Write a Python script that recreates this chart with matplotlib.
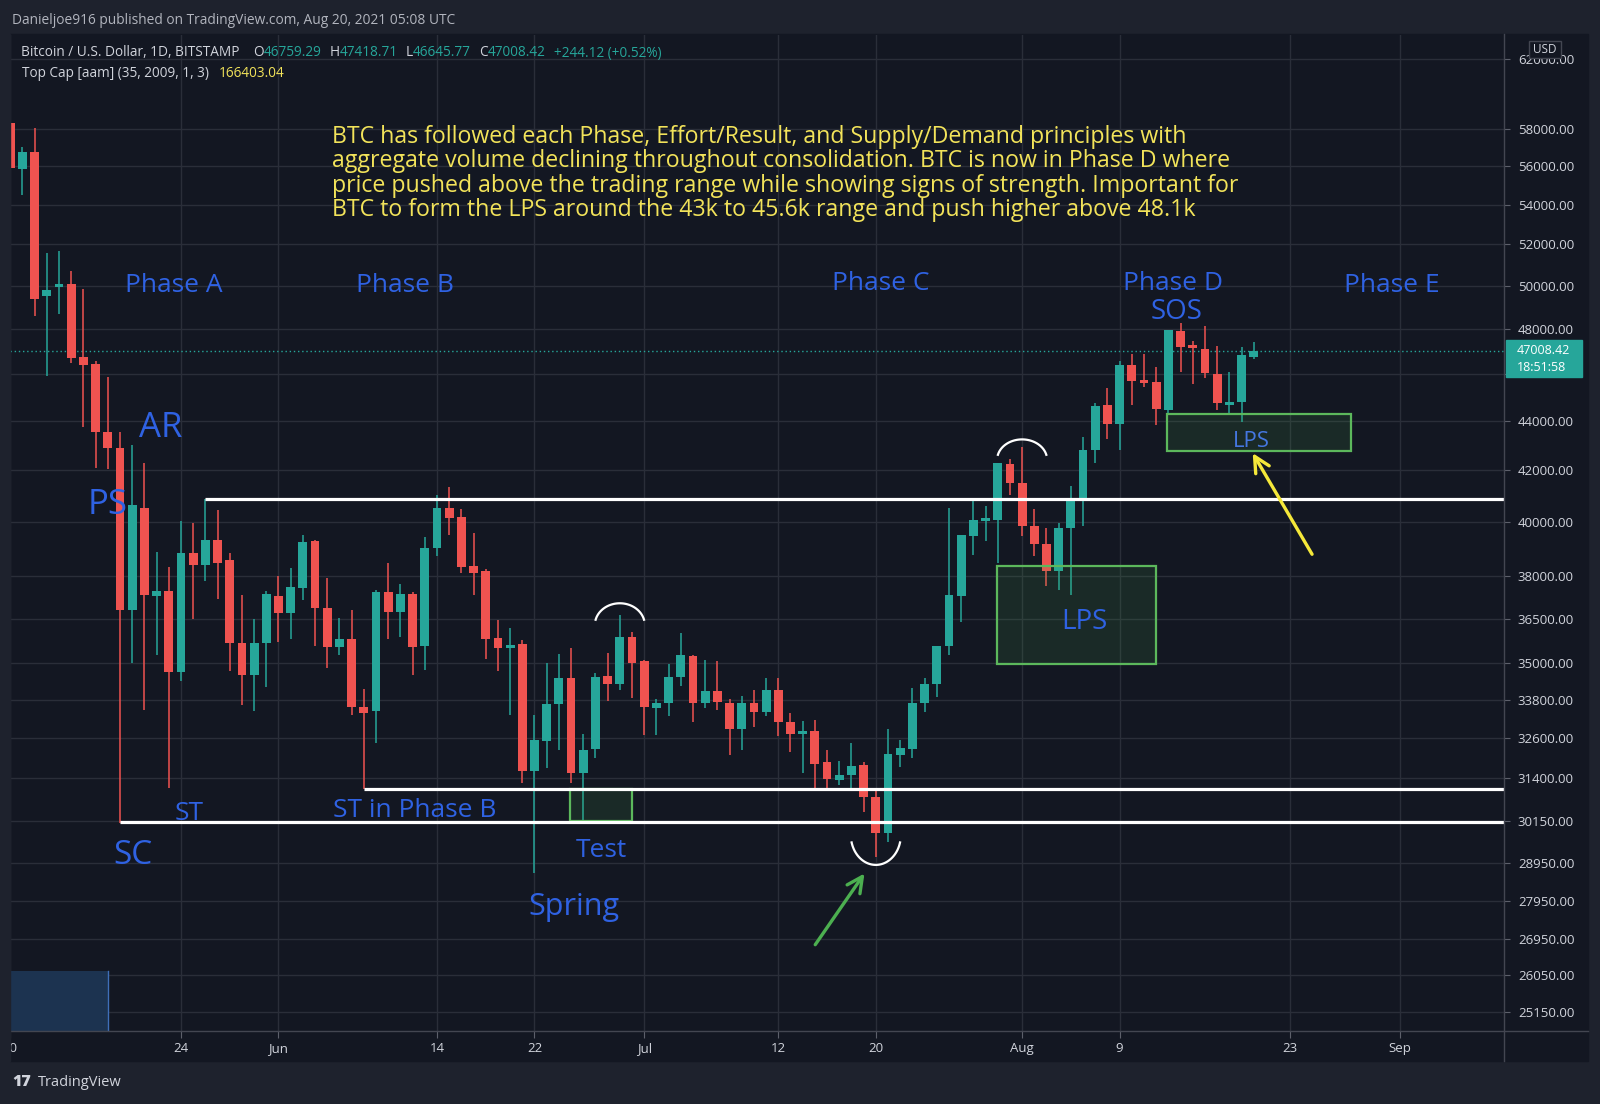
import numpy as np
import pandas as pd
import matplotlib
matplotlib.use('Agg')
import matplotlib.pyplot as plt
from matplotlib.patches import Rectangle
from matplotlib.lines import Line2D
from matplotlib.transforms import ScaledTranslation

# Данные: BTC/USD, 1D, Bitstamp, с 10 мая 2021
start = pd.Timestamp('2021-05-10')
opens = [58350, 55830, 56770, 49520, 49950, 50100, 46730, 46440, 43560, 42880,
         36780, 40540, 37290, 37450, 34700, 38850, 38400, 39300, 38580, 35680,
         34600, 35650, 37290, 36690, 37570, 39270, 36860, 35520, 35790, 33560,
         33430, 37410, 36710, 37360, 35550, 39010, 40540, 40170, 38370, 38170,
         35840, 35500, 35640, 31610, 32520, 33660, 34500, 31550, 32270, 34570,
         34320, 35880, 35070, 33530, 33680, 34540, 35230, 33700, 34080, 33710,
         32880, 33710, 33420, 34100, 33080, 32730, 32800, 31860, 31330, 31490,
         31790, 30840, 29790, 32090, 32270, 33680, 34300, 35570, 37290, 39470,
         40010, 40050, 42250, 41510, 39850, 39180, 38170, 39770, 40840, 42820,
         44670, 43870, 46390, 45650, 45660, 44440, 47920, 47210, 47100, 46010,
         44670, 44790, 46759.29]
highs = [58400, 57000, 58040, 51600, 51700, 50710, 49840, 46590, 45880, 43560,
         43010, 42280, 38880, 38310, 40010, 39970, 40870, 40430, 38850, 37320,
         36490, 37480, 37990, 38270, 39500, 39300, 37930, 36510, 36800, 34140,
         37500, 38460, 37700, 37410, 39420, 41010, 41320, 40500, 39560, 38260,
         36460, 36180, 35760, 33320, 35010, 35290, 35500, 32730, 34650, 35330,
         36630, 36030, 35100, 33830, 34970, 36000, 35260, 35100, 35070, 33830,
         33920, 34100, 34500, 34500, 33370, 33140, 33160, 32240, 31910, 32440,
         31860, 31000, 32880, 32550, 34180, 34500, 35570, 40530, 39500, 40880,
         40600, 42280, 42440, 42950, 40480, 39770, 39970, 41380, 43340, 44760,
         45400, 46590, 46860, 46890, 46300, 47960, 48270, 47470, 48120, 47250,
         46100, 47180, 47418.71]
lows = [55800, 54500, 48600, 45900, 48700, 46480, 43770, 42070, 42040, 30080,
        34990, 33470, 35260, 31080, 34390, 36480, 37820, 37180, 34720, 33630,
        33430, 34220, 35700, 35810, 37150, 35550, 34820, 35260, 33320, 31050,
        32440, 35810, 35870, 34600, 34770, 38720, 39500, 38090, 37320, 35120,
        34720, 33320, 31230, 28700, 31680, 32240, 31230, 30150, 31980, 33760,
        34100, 33870, 32690, 32690, 33290, 34240, 33110, 33530, 33460, 32090,
        32240, 32950, 33290, 32660, 32170, 31550, 31100, 31100, 31180, 31100,
        30390, 29120, 29530, 31730, 31980, 33400, 33900, 35250, 36390, 38770,
        39260, 38460, 41010, 39450, 38710, 37650, 37510, 37320, 39820, 42280,
        43250, 42790, 44670, 45430, 43830, 44300, 46100, 45580, 45810, 44480,
        44340, 43970, 46645.77]
closes = [55900, 56770, 49370, 49800, 50100, 46690, 46390, 43560, 42880, 36780,
          40630, 37320, 37480, 34700, 38830, 38400, 39320, 38480, 35680, 34600,
          35650, 37360, 36690, 37590, 39240, 36860, 35520, 35790, 33580, 33390,
          37410, 36710, 37360, 35530, 39010, 40540, 40130, 38340, 38110, 35810,
          35500, 35570, 31610, 32540, 33660, 34500, 31550, 32240, 34540, 34320,
          35880, 35010, 33560, 33680, 34540, 35260, 33680, 34080, 33740, 32880,
          33680, 33420, 34100, 33080, 32730, 32800, 31810, 31360, 31490, 31760,
          30840, 29790, 32120, 32300, 33680, 34300, 35570, 37320, 39500, 40050,
          40070, 42280, 41510, 39820, 39180, 38170, 39770, 40880, 42820, 44640,
          43870, 46390, 45690, 45600, 44510, 47960, 47210, 47130, 46060, 44760,
          44760, 46830, 47008.42]

last_price = 47008.42
price_ticks = [62000, 58000, 56000, 54000, 52000, 50000, 48000, 46000, 44000, 42000,
               40000, 38000, 36500, 35000, 33800, 32600, 31400, 30150, 28950, 27950,
               26950, 26050, 25150]
hidden_tick = 46000   # подпись закрыта меткой текущей цены
tick_dates = ['2021-05-10', '2021-05-24', '2021-06-01', '2021-06-14', '2021-06-22',
              '2021-07-01', '2021-07-12', '2021-07-20', '2021-08-01', '2021-08-09',
              '2021-08-23', '2021-09-01']
tick_labels = ['10', '24', 'Jun', '14', '22', 'Jul', '12', '20', 'Aug', '9', '23', 'Sep']

# Горизонтальные уровни: (начало, дата), цена
levels = [('2021-05-19', 30100), ('2021-06-08', 31050), ('2021-05-26', 40870)]
# Зелёные зоны: день начала, день конца, цена низ, цена верх
zones = [(45.9, 51.0, 30130, 31050), (80.9, 94.0, 34960, 38360), (94.9, 110.0, 42780, 44290)]
# Дуги: центр (день), основание, вершина, полуширина в днях
arcs = [(50.0, 36270, 37030, 2.05), (83.0, 42410, 43240, 2.05), (71.0, 29740, 28910, 2.05)]

labels = [('Phase A', 13.4, 50150, 19), ('Phase B', 32.4, 50150, 19),
          ('Phase C', 71.4, 50250, 19), ('Phase D', 95.4, 50250, 19),
          ('SOS', 95.7, 48920, 20), ('Phase E', 113.3, 50150, 19),
          ('AR', 12.3, 43850, 25), ('PS', 8.0, 40760, 25),
          ('ST', 14.7, 30450, 19), ('ST in Phase B', 33.2, 30510, 19),
          ('SC', 10.1, 29240, 24), ('Test', 48.5, 29380, 19),
          ('Spring', 46.2, 27860, 22), ('LPS', 88.1, 36470, 20), ('LPS', 101.8, 43260, 16)]

note = ("BTC has followed each Phase, Effort/Result, and Supply/Demand principles with\n"
        "aggregate volume declining throughout consolidation. BTC is now in Phase D where\n"
        "price pushed above the trading range while showing signs of strength. Important for\n"
        "BTC to form the LPS around the 43k to 45.6k range and push higher above 48.1k")

W, H = 1600, 1104
BG = '#131722'
FRAME = '#1e222d'
UP, DOWN = '#26a69a', '#ef5350'
BLUE = '#2f62e3'
TXT = '#d1d4dc'
FONT = ['Open Sans', 'DejaVu Sans']

fig = plt.figure(figsize=(W / 100, H / 100), dpi=100, facecolor=FRAME)

def fx(px):
    return px / W

def fy(py):
    return 1 - py / H

# панель графика
fig.patches.append(Rectangle((fx(10), fy(1061)), fx(1588) - fx(10), fy(34) - fy(1061),
                             transform=fig.transFigure, color=BG, zorder=-5))

ax = fig.add_axes([fx(10), fy(1031), fx(1504) - fx(10), fy(35) - fy(1031)], facecolor=BG)
ax.set_yscale('log')
ax.set_xlim(-0.025, 122.53)
ax.set_ylim(24706, 63395)

days = np.arange(len(opens))
o = np.array(opens); h = np.array(highs); l = np.array(lows); c = np.array(closes)
cols = np.where(c >= o, UP, DOWN)

tick_days = [(pd.Timestamp(t) - start).days for t in tick_dates]
for td in tick_days:
    ax.axvline(td, color='#2a2e39', lw=1, zorder=0)
for p in price_ticks:
    ax.axhline(p, color='#2a2e39', lw=1, zorder=0)

ax.vlines(days, l, h, colors=cols, lw=1.1, zorder=2)
lo = np.minimum(o, c)
hi = np.maximum(o, c)
hi = np.maximum(hi, lo * 1.003)
ax.bar(days, hi - lo, bottom=lo, width=0.72, color=cols, zorder=3, linewidth=0)

ax.axhline(last_price, color=UP, lw=1, ls=(0, (1, 2)), zorder=1)

# уровни
for d0, p in levels:
    x0 = (pd.Timestamp(d0) - start).days
    ax.plot([x0, 200], [p, p], color='white', lw=2.3, zorder=5, solid_capstyle='butt')

# зоны
for x0, x1, p0, p1 in zones:
    ax.add_patch(Rectangle((x0, p0), x1 - x0, p1 - p0, facecolor='#4caf50', alpha=0.13,
                           edgecolor='none', zorder=4))
    ax.add_patch(Rectangle((x0, p0), x1 - x0, p1 - p0, facecolor='none',
                           edgecolor='#5cb85c', lw=1.6, zorder=4))

# синий прямоугольник внизу слева
ax.add_patch(Rectangle((-0.1, 24000), 8.1, 26160 - 24000, facecolor='#1c3350',
                       edgecolor='none', zorder=1))
ax.plot([8.0, 8.0], [24000, 26160], color='#3f6fb8', lw=1, zorder=1)

# дуги
t = np.linspace(0.08 * np.pi, 0.92 * np.pi, 60)
for cx, base, peak, hw in arcs:
    xs = cx + hw * np.cos(t)
    ys = base * np.exp(np.log(peak / base) * np.sin(t))
    ax.plot(xs, ys, color='white', lw=1.6, zorder=6)

# стрелки
ax.annotate('', xy=(70.2, 28740), xytext=(65.9, 26750),
            arrowprops=dict(arrowstyle='->', color='#4caf50', lw=2.4, mutation_scale=28),
            zorder=7)
ax.annotate('', xy=(101.8, 42780), xytext=(106.9, 38700),
            arrowprops=dict(arrowstyle='->', color='#f5e83a', lw=2.4, mutation_scale=28),
            zorder=7)

down = ax.transData + ScaledTranslation(0, -3 / 100, fig.dpi_scale_trans)
for s, x, y, size in labels:
    col = '#4577e0' if size == 16 else BLUE
    ax.text(x, y, s, color=col, fontsize=size, family=FONT, ha='center', va='center',
            zorder=8, transform=down)

ax.text(26.36, 55600, note, color='#f2e35a', fontsize=16.7, family=FONT, ha='left',
        va='center', linespacing=1.03, zorder=8)

# оси
for sp in ax.spines.values():
    sp.set_visible(False)
ax.yaxis.tick_right()
ax.set_yticks(price_ticks)
ax.set_yticklabels(['' if p == hidden_tick else f'{p:.2f}' for p in price_ticks])
ax.yaxis.set_minor_locator(matplotlib.ticker.NullLocator())
ax.tick_params(axis='y', colors='#5d606b', labelcolor=TXT, length=4, pad=6, labelsize=9.5)
ax.set_xticks(tick_days)
ax.set_xticklabels(tick_labels)
ax.tick_params(axis='x', colors='#5d606b', labelcolor=TXT, length=5, pad=3, labelsize=9.5)
for lab in ax.get_xticklabels() + ax.get_yticklabels():
    lab.set_family(FONT)

# линии осей
fig.add_artist(Line2D([fx(1504), fx(1504)], [fy(1061), fy(34)], color='#434651', lw=1))
fig.add_artist(Line2D([fx(10), fx(1588)], [fy(1031), fy(1031)], color='#434651', lw=1))
# левая полоска
fig.patches.append(Rectangle((0, fy(1061)), fx(10), fy(34) - fy(1061),
                             transform=fig.transFigure, color=FRAME, zorder=10))

# метка текущей цены
fig.patches.append(Rectangle((fx(1506), fy(377)), fx(1582) - fx(1506), fy(340) - fy(377),
                             transform=fig.transFigure, color=UP, zorder=10))
fig.text(fx(1517), fy(351), f'{last_price:.2f}', color='white', fontsize=9, family=FONT,
         va='center', zorder=11)
fig.text(fx(1517), fy(368), '18:51:58', color='white', fontsize=9, family=FONT,
         va='center', zorder=11)

# USD
fig.patches.append(Rectangle((fx(1529), fy(58)), fx(1561) - fx(1529), fy(41) - fy(58),
                             transform=fig.transFigure, facecolor=BG, edgecolor='#434651',
                             lw=1, zorder=10))
fig.text(fx(1545), fy(49.5), 'USD', color=TXT, fontsize=8.5, family=FONT,
         ha='center', va='center', zorder=11)

# шапка и легенда
fig.text(fx(12), fy(20.4), 'Danieljoe916 published on TradingView.com, Aug 20, 2021 05:08 UTC',
         color='#b2b5be', fontsize=9.95, family=FONT, va='center')

renderer = fig.canvas.get_renderer()

def chain(parts, x, y, size):
    for s, gap, col in parts:
        x += gap
        tx = fig.text(fx(x), fy(y), s, color=col, fontsize=size, family=FONT,
                      va='center', zorder=11)
        x += tx.get_window_extent(renderer=renderer).width

leg1 = [('Bitcoin / U.S. Dollar, 1D, BITSTAMP', 0, TXT), ('O', 13, TXT),
        ('46759.29', 0, UP), ('H', 8, TXT), ('47418.71', 0, UP),
        ('L', 8, TXT), ('46645.77', 0, UP), ('C', 8, TXT),
        ('47008.42', 0, UP), ('+244.12 (+0.52%)', 9, UP)]
chain(leg1, 21.4, 53, 9.8)
chain([('Top Cap [aam] (35, 2009, 1, 3)', 0, TXT), ('166403.04', 9, '#f2e35a')], 22.3, 73.5, 9.8)

# логотип
fig.text(fx(12), fy(1082), '17', color=TXT, fontsize=11.5, fontweight='heavy',
         family=FONT, va='center')
fig.text(fx(38), fy(1082), 'TradingView', color=TXT, fontsize=10.5, family=FONT, va='center')

fig.savefig('out.png', dpi=100, facecolor=FRAME)
